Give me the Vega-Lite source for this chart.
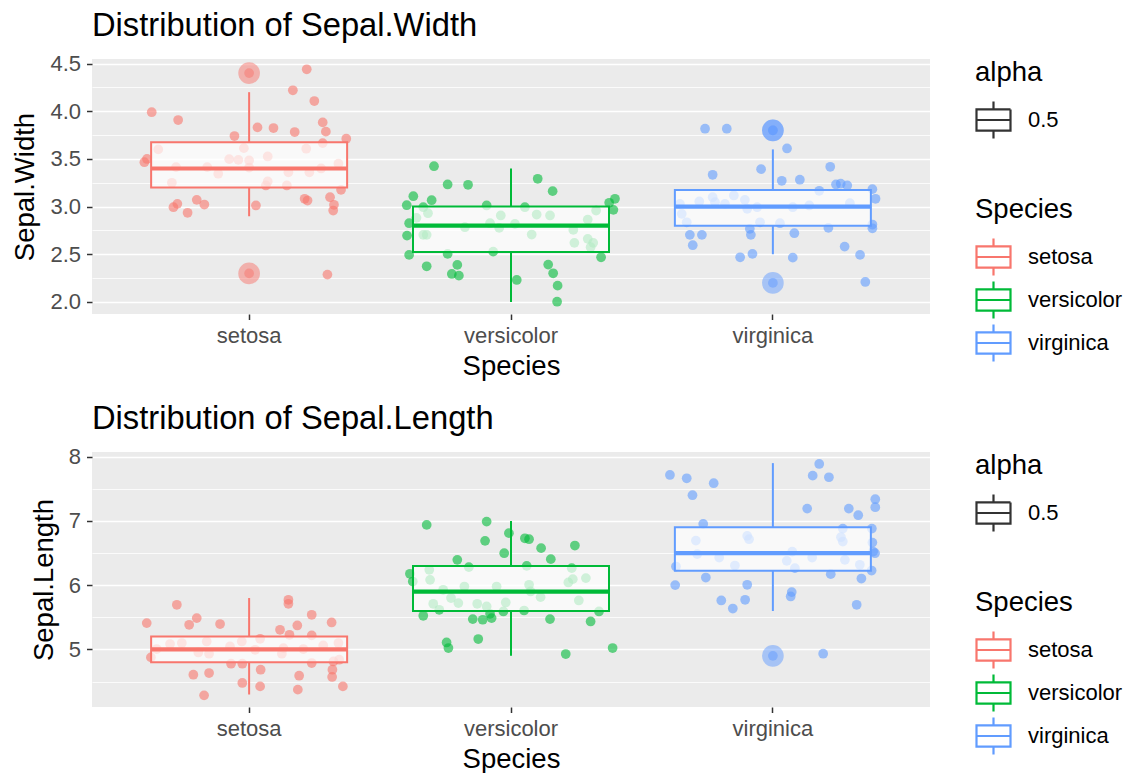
{
  "$schema": "https://vega.github.io/schema/vega-lite/v6.json",
  "background": "white",
  "padding": {"left": 11, "top": 9, "right": 5, "bottom": 5},
  "config": {
    "font": "Liberation Sans",
    "view": {"fill": "#EBEBEB", "stroke": null},
    "axis": {
      "domain": false,
      "gridColor": "white",
      "gridWidth": 1.6,
      "tickColor": "#333333",
      "tickWidth": 1.5,
      "tickSize": 5.5,
      "labelColor": "#4D4D4D",
      "labelFontSize": 22,
      "labelPadding": 6,
      "titleFontSize": 27.5,
      "titleFontWeight": "normal",
      "titleColor": "black"
    },
    "legend": {
      "titleFontSize": 27.5,
      "titleFontWeight": "normal",
      "titleColor": "black",
      "labelFontSize": 22,
      "labelColor": "black",
      "offset": 45,
      "rowPadding": -4,
      "labelOffset": 16,
      "titlePadding": 15,
      "symbolType": "M-1,-0.62L1,-0.62L1,0.62L-1,0.62Z M-1,0L1,0 M0,-0.62L0,-1.09 M0,0.62L0,1.09",
      "symbolSize": 1156,
      "symbolStrokeWidth": 2.2,
      "symbolFillColor": "transparent",
      "symbolOpacity": 1,
      "layout": {"right": {"anchor": "start", "direction": "vertical", "margin": 53}}
    },
    "title": {"fontSize": 32.7, "fontWeight": "normal", "color": "black", "anchor": "start", "frame": "group", "offset": 10}
  },
  "datasets": {
    "widthPoints": [
      {"Species":"setosa","jitter":0.22,"value":4.44},{"Species":"setosa","jitter":0.167,"value":4.22},{"Species":"setosa","jitter":0.249,"value":4.107},{"Species":"setosa","jitter":-0.372,"value":3.99},{"Species":"setosa","jitter":-0.271,"value":3.908},{"Species":"setosa","jitter":0.281,"value":3.883},{"Species":"setosa","jitter":0.293,"value":3.786},{"Species":"setosa","jitter":0.032,"value":3.831},{"Species":"setosa","jitter":0.093,"value":3.824},{"Species":"setosa","jitter":0.174,"value":3.782},{"Species":"setosa","jitter":-0.056,"value":3.74},{"Species":"setosa","jitter":0.371,"value":3.712},{"Species":"setosa","jitter":0.281,"value":3.666},{"Species":"setosa","jitter":-0.347,"value":3.6},{"Species":"setosa","jitter":-0.02,"value":3.613},{"Species":"setosa","jitter":0.218,"value":3.607},{"Species":"setosa","jitter":-0.4,"value":3.466},{"Species":"setosa","jitter":-0.39,"value":3.5},{"Species":"setosa","jitter":-0.076,"value":3.498},{"Species":"setosa","jitter":-0.041,"value":3.49},{"Species":"setosa","jitter":0.0,"value":3.484},{"Species":"setosa","jitter":0.071,"value":3.526},{"Species":"setosa","jitter":-0.279,"value":3.414},{"Species":"setosa","jitter":-0.16,"value":3.414},{"Species":"setosa","jitter":-0.118,"value":3.345},{"Species":"setosa","jitter":0.0,"value":3.41},{"Species":"setosa","jitter":0.15,"value":3.36},{"Species":"setosa","jitter":0.23,"value":3.36},{"Species":"setosa","jitter":0.275,"value":3.4},{"Species":"setosa","jitter":0.341,"value":3.45},{"Species":"setosa","jitter":-0.295,"value":3.25},{"Species":"setosa","jitter":0.064,"value":3.222},{"Species":"setosa","jitter":0.071,"value":3.264},{"Species":"setosa","jitter":0.144,"value":3.222},{"Species":"setosa","jitter":0.351,"value":3.176},{"Species":"setosa","jitter":0.309,"value":3.099},{"Species":"setosa","jitter":0.212,"value":3.082},{"Species":"setosa","jitter":0.223,"value":3.064},{"Species":"setosa","jitter":0.324,"value":3.019},{"Species":"setosa","jitter":0.321,"value":2.959},{"Species":"setosa","jitter":-0.289,"value":2.994},{"Species":"setosa","jitter":-0.274,"value":3.029},{"Species":"setosa","jitter":-0.2,"value":3.071},{"Species":"setosa","jitter":-0.171,"value":3.022},{"Species":"setosa","jitter":-0.235,"value":2.935},{"Species":"setosa","jitter":0.026,"value":3.012},{"Species":"setosa","jitter":0.299,"value":2.287},
      {"Species":"versicolor","jitter":-0.294,"value":3.424},{"Species":"versicolor","jitter":-0.242,"value":3.232},{"Species":"versicolor","jitter":-0.164,"value":3.229},{"Species":"versicolor","jitter":-0.373,"value":3.109},{"Species":"versicolor","jitter":-0.398,"value":3.015},{"Species":"versicolor","jitter":-0.303,"value":3.067},{"Species":"versicolor","jitter":-0.335,"value":2.994},{"Species":"versicolor","jitter":-0.093,"value":3.012},{"Species":"versicolor","jitter":0.053,"value":2.994},{"Species":"versicolor","jitter":0.102,"value":3.292},{"Species":"versicolor","jitter":0.159,"value":3.162},{"Species":"versicolor","jitter":0.375,"value":3.04},{"Species":"versicolor","jitter":0.397,"value":3.082},{"Species":"versicolor","jitter":0.391,"value":2.966},{"Species":"versicolor","jitter":0.325,"value":2.959},{"Species":"versicolor","jitter":-0.361,"value":2.882},{"Species":"versicolor","jitter":-0.317,"value":2.931},{"Species":"versicolor","jitter":-0.389,"value":2.826},{"Species":"versicolor","jitter":-0.397,"value":2.696},{"Species":"versicolor","jitter":-0.335,"value":2.704},{"Species":"versicolor","jitter":-0.322,"value":2.704},{"Species":"versicolor","jitter":-0.176,"value":2.784},{"Species":"versicolor","jitter":-0.08,"value":2.826},{"Species":"versicolor","jitter":-0.039,"value":2.907},{"Species":"versicolor","jitter":-0.045,"value":2.777},{"Species":"versicolor","jitter":0.015,"value":2.819},{"Species":"versicolor","jitter":0.098,"value":2.917},{"Species":"versicolor","jitter":0.149,"value":2.907},{"Species":"versicolor","jitter":0.079,"value":2.707},{"Species":"versicolor","jitter":0.238,"value":2.756},{"Species":"versicolor","jitter":0.293,"value":2.864},{"Species":"versicolor","jitter":0.242,"value":2.62},{"Species":"versicolor","jitter":0.293,"value":2.662},{"Species":"versicolor","jitter":0.314,"value":2.62},{"Species":"versicolor","jitter":0.304,"value":2.574},{"Species":"versicolor","jitter":-0.389,"value":2.494},{"Species":"versicolor","jitter":-0.242,"value":2.504},{"Species":"versicolor","jitter":-0.068,"value":2.528},{"Species":"versicolor","jitter":0.344,"value":2.469},{"Species":"versicolor","jitter":-0.322,"value":2.374},{"Species":"versicolor","jitter":-0.205,"value":2.389},{"Species":"versicolor","jitter":-0.226,"value":2.294},{"Species":"versicolor","jitter":-0.199,"value":2.276},{"Species":"versicolor","jitter":0.022,"value":2.231},{"Species":"versicolor","jitter":0.142,"value":2.392},{"Species":"versicolor","jitter":0.161,"value":2.301},{"Species":"versicolor","jitter":0.178,"value":2.171},{"Species":"versicolor","jitter":0.176,"value":2.003},
      {"Species":"virginica","jitter":-0.259,"value":3.817},{"Species":"virginica","jitter":-0.176,"value":3.817},{"Species":"virginica","jitter":0.054,"value":3.61},{"Species":"virginica","jitter":-0.23,"value":3.334},{"Species":"virginica","jitter":-0.045,"value":3.393},{"Species":"virginica","jitter":0.034,"value":3.271},{"Species":"virginica","jitter":0.103,"value":3.282},{"Species":"virginica","jitter":0.219,"value":3.418},{"Species":"virginica","jitter":0.241,"value":3.232},{"Species":"virginica","jitter":0.259,"value":3.24},{"Species":"virginica","jitter":0.284,"value":3.222},{"Species":"virginica","jitter":0.38,"value":3.183},{"Species":"virginica","jitter":0.392,"value":3.082},{"Species":"virginica","jitter":0.177,"value":3.166},{"Species":"virginica","jitter":-0.355,"value":3.029},{"Species":"virginica","jitter":-0.281,"value":3.054},{"Species":"virginica","jitter":-0.23,"value":3.099},{"Species":"virginica","jitter":-0.221,"value":3.046},{"Species":"virginica","jitter":-0.183,"value":3.029},{"Species":"virginica","jitter":-0.149,"value":3.117},{"Species":"virginica","jitter":-0.107,"value":3.071},{"Species":"virginica","jitter":-0.098,"value":2.977},{"Species":"virginica","jitter":-0.06,"value":2.994},{"Species":"virginica","jitter":0.076,"value":2.994},{"Species":"virginica","jitter":0.139,"value":3.012},{"Species":"virginica","jitter":0.294,"value":3.036},{"Species":"virginica","jitter":-0.348,"value":2.924},{"Species":"virginica","jitter":-0.329,"value":2.836},{"Species":"virginica","jitter":-0.049,"value":2.836},{"Species":"virginica","jitter":0.027,"value":2.826},{"Species":"virginica","jitter":0.38,"value":2.812},{"Species":"virginica","jitter":0.38,"value":2.773},{"Species":"virginica","jitter":0.212,"value":2.777},{"Species":"virginica","jitter":-0.088,"value":2.767},{"Species":"virginica","jitter":-0.084,"value":2.704},{"Species":"virginica","jitter":-0.317,"value":2.704},{"Species":"virginica","jitter":-0.271,"value":2.704},{"Species":"virginica","jitter":0.082,"value":2.721},{"Species":"virginica","jitter":-0.306,"value":2.595},{"Species":"virginica","jitter":0.274,"value":2.581},{"Species":"virginica","jitter":0.333,"value":2.494},{"Species":"virginica","jitter":-0.125,"value":2.469},{"Species":"virginica","jitter":-0.078,"value":2.504},{"Species":"virginica","jitter":0.076,"value":2.465},{"Species":"virginica","jitter":0.353,"value":2.21}
    ],
    "widthStats": [
      {"Species":"setosa","lower":2.9,"q1":3.2,"median":3.4,"q3":3.675,"upper":4.2,"alpha":"0.5"},
      {"Species":"versicolor","lower":2.0,"q1":2.525,"median":2.8,"q3":3.0,"upper":3.4,"alpha":"0.5"},
      {"Species":"virginica","lower":2.5,"q1":2.8,"median":3.0,"q3":3.175,"upper":3.6,"alpha":"0.5"}
    ],
    "widthOutliers": [
      {"Species":"setosa","value":4.4},{"Species":"setosa","value":2.3},
      {"Species":"virginica","value":3.8},{"Species":"virginica","value":3.8},{"Species":"virginica","value":2.2}
    ],
    "lengthPoints": [
      {"Species":"setosa","jitter":0.15,"value":5.773},{"Species":"setosa","jitter":0.15,"value":5.71},{"Species":"setosa","jitter":-0.276,"value":5.695},{"Species":"setosa","jitter":-0.391,"value":5.41},{"Species":"setosa","jitter":-0.229,"value":5.384},{"Species":"setosa","jitter":-0.2,"value":5.488},{"Species":"setosa","jitter":-0.111,"value":5.395},{"Species":"setosa","jitter":0.239,"value":5.539},{"Species":"setosa","jitter":0.184,"value":5.373},{"Species":"setosa","jitter":0.315,"value":5.42},{"Species":"setosa","jitter":0.118,"value":5.306},{"Species":"setosa","jitter":0.154,"value":5.228},{"Species":"setosa","jitter":0.239,"value":5.218},{"Species":"setosa","jitter":0.042,"value":5.166},{"Species":"setosa","jitter":-0.353,"value":5.006},{"Species":"setosa","jitter":-0.302,"value":5.084},{"Species":"setosa","jitter":-0.257,"value":5.1},{"Species":"setosa","jitter":-0.162,"value":5.124},{"Species":"setosa","jitter":-0.194,"value":4.953},{"Species":"setosa","jitter":-0.153,"value":4.933},{"Species":"setosa","jitter":-0.073,"value":5.047},{"Species":"setosa","jitter":-0.028,"value":5.124},{"Species":"setosa","jitter":0.023,"value":4.995},{"Species":"setosa","jitter":0.131,"value":5.02},{"Species":"setosa","jitter":0.125,"value":4.933},{"Species":"setosa","jitter":0.207,"value":5.006},{"Species":"setosa","jitter":0.283,"value":5.062},{"Species":"setosa","jitter":0.341,"value":5.1},{"Species":"setosa","jitter":0.344,"value":4.84},{"Species":"setosa","jitter":0.322,"value":4.813},{"Species":"setosa","jitter":-0.375,"value":4.876},{"Species":"setosa","jitter":-0.069,"value":4.778},{"Species":"setosa","jitter":-0.026,"value":4.778},{"Species":"setosa","jitter":0.239,"value":4.788},{"Species":"setosa","jitter":-0.213,"value":4.607},{"Species":"setosa","jitter":-0.153,"value":4.633},{"Species":"setosa","jitter":0.044,"value":4.684},{"Species":"setosa","jitter":0.191,"value":4.591},{"Species":"setosa","jitter":0.318,"value":4.684},{"Species":"setosa","jitter":0.317,"value":4.571},{"Species":"setosa","jitter":-0.026,"value":4.478},{"Species":"setosa","jitter":0.042,"value":4.425},{"Species":"setosa","jitter":0.186,"value":4.374},{"Species":"setosa","jitter":0.358,"value":4.425},{"Species":"setosa","jitter":-0.172,"value":4.285},
      {"Species":"versicolor","jitter":-0.322,"value":6.938},{"Species":"versicolor","jitter":-0.093,"value":6.99},{"Species":"versicolor","jitter":-0.008,"value":6.81},{"Species":"versicolor","jitter":-0.099,"value":6.69},{"Species":"versicolor","jitter":0.053,"value":6.73},{"Species":"versicolor","jitter":0.069,"value":6.716},{"Species":"versicolor","jitter":0.115,"value":6.576},{"Species":"versicolor","jitter":0.244,"value":6.617},{"Species":"versicolor","jitter":-0.026,"value":6.498},{"Species":"versicolor","jitter":0.152,"value":6.405},{"Species":"versicolor","jitter":-0.205,"value":6.394},{"Species":"versicolor","jitter":-0.161,"value":6.281},{"Species":"versicolor","jitter":0.06,"value":6.301},{"Species":"versicolor","jitter":-0.386,"value":6.177},{"Species":"versicolor","jitter":-0.375,"value":6.057},{"Species":"versicolor","jitter":-0.312,"value":6.239},{"Species":"versicolor","jitter":-0.309,"value":6.083},{"Species":"versicolor","jitter":0.232,"value":6.265},{"Species":"versicolor","jitter":0.236,"value":6.094},{"Species":"versicolor","jitter":0.219,"value":6.042},{"Species":"versicolor","jitter":0.286,"value":6.11},{"Species":"versicolor","jitter":-0.259,"value":5.928},{"Species":"versicolor","jitter":-0.178,"value":5.979},{"Species":"versicolor","jitter":-0.055,"value":5.979},{"Species":"versicolor","jitter":0.069,"value":6.006},{"Species":"versicolor","jitter":0.075,"value":5.902},{"Species":"versicolor","jitter":0.113,"value":5.814},{"Species":"versicolor","jitter":-0.229,"value":5.8},{"Species":"versicolor","jitter":-0.297,"value":5.71},{"Species":"versicolor","jitter":-0.201,"value":5.721},{"Species":"versicolor","jitter":-0.129,"value":5.71},{"Species":"versicolor","jitter":-0.093,"value":5.669},{"Species":"versicolor","jitter":-0.02,"value":5.731},{"Species":"versicolor","jitter":0.259,"value":5.762},{"Species":"versicolor","jitter":-0.274,"value":5.617},{"Species":"versicolor","jitter":-0.335,"value":5.524},{"Species":"versicolor","jitter":-0.146,"value":5.472},{"Species":"versicolor","jitter":-0.108,"value":5.462},{"Species":"versicolor","jitter":-0.074,"value":5.488},{"Species":"versicolor","jitter":-0.08,"value":5.555},{"Species":"versicolor","jitter":-0.029,"value":5.591},{"Species":"versicolor","jitter":0.05,"value":5.606},{"Species":"versicolor","jitter":0.149,"value":5.472},{"Species":"versicolor","jitter":0.304,"value":5.435},{"Species":"versicolor","jitter":0.336,"value":5.591},{"Species":"versicolor","jitter":-0.246,"value":5.109},{"Species":"versicolor","jitter":-0.239,"value":5.022},{"Species":"versicolor","jitter":-0.125,"value":5.162},{"Species":"versicolor","jitter":0.209,"value":4.928},{"Species":"versicolor","jitter":0.388,"value":5.022},
      {"Species":"virginica","jitter":-0.393,"value":7.716},{"Species":"virginica","jitter":-0.329,"value":7.664},{"Species":"virginica","jitter":-0.226,"value":7.587},{"Species":"virginica","jitter":-0.307,"value":7.4},{"Species":"virginica","jitter":0.177,"value":7.887},{"Species":"virginica","jitter":0.152,"value":7.705},{"Species":"virginica","jitter":0.214,"value":7.68},{"Species":"virginica","jitter":0.391,"value":7.338},{"Species":"virginica","jitter":0.391,"value":7.214},{"Species":"virginica","jitter":0.131,"value":7.192},{"Species":"virginica","jitter":0.29,"value":7.192},{"Species":"virginica","jitter":0.326,"value":7.089},{"Species":"virginica","jitter":-0.266,"value":6.954},{"Species":"virginica","jitter":0.378,"value":6.881},{"Species":"virginica","jitter":0.267,"value":6.881},{"Species":"virginica","jitter":-0.294,"value":6.694},{"Species":"virginica","jitter":-0.098,"value":6.767},{"Species":"virginica","jitter":-0.091,"value":6.716},{"Species":"virginica","jitter":0.26,"value":6.747},{"Species":"virginica","jitter":0.267,"value":6.679},{"Species":"virginica","jitter":0.38,"value":6.663},{"Species":"virginica","jitter":0.383,"value":6.523},{"Species":"virginica","jitter":0.39,"value":6.498},{"Species":"virginica","jitter":-0.289,"value":6.483},{"Species":"virginica","jitter":-0.205,"value":6.43},{"Species":"virginica","jitter":-0.145,"value":6.306},{"Species":"virginica","jitter":0.074,"value":6.523},{"Species":"virginica","jitter":0.053,"value":6.379},{"Species":"virginica","jitter":0.15,"value":6.43},{"Species":"virginica","jitter":0.275,"value":6.394},{"Species":"virginica","jitter":0.332,"value":6.317},{"Species":"virginica","jitter":-0.37,"value":6.29},{"Species":"virginica","jitter":0.084,"value":6.265},{"Species":"virginica","jitter":0.377,"value":6.228},{"Species":"virginica","jitter":0.221,"value":6.172},{"Species":"virginica","jitter":-0.256,"value":6.119},{"Species":"virginica","jitter":0.338,"value":6.104},{"Species":"virginica","jitter":-0.373,"value":6.001},{"Species":"virginica","jitter":-0.098,"value":6.006},{"Species":"virginica","jitter":0.072,"value":5.892},{"Species":"virginica","jitter":0.068,"value":5.824},{"Species":"virginica","jitter":-0.197,"value":5.762},{"Species":"virginica","jitter":-0.106,"value":5.773},{"Species":"virginica","jitter":-0.153,"value":5.637},{"Species":"virginica","jitter":0.32,"value":5.695},{"Species":"virginica","jitter":0.192,"value":4.933}
    ],
    "lengthStats": [
      {"Species":"setosa","lower":4.3,"q1":4.8,"median":5.0,"q3":5.2,"upper":5.8,"alpha":"0.5"},
      {"Species":"versicolor","lower":4.9,"q1":5.6,"median":5.9,"q3":6.3,"upper":7.0,"alpha":"0.5"},
      {"Species":"virginica","lower":5.6,"q1":6.225,"median":6.5,"q3":6.9,"upper":7.9,"alpha":"0.5"}
    ],
    "lengthOutliers": [
      {"Species":"virginica","value":4.9}
    ]
  },
  "spacing": 22,
  "resolve": {
    "scale": {"x": "independent", "y": "independent", "xOffset": "independent", "color": "independent", "stroke": "independent", "strokeDash": "independent"},
    "legend": {"color": "independent", "stroke": "independent", "strokeDash": "independent"}
  },
  "vconcat": [
    {
      "width": 838,
      "height": 255,
      "title": {"text": "Distribution of Sepal.Width"},
      "encoding": {
        "x": {"field": "Species", "type": "nominal",
          "scale": {"type": "band", "domain": ["setosa", "versicolor", "virginica"], "paddingInner": 0.2, "paddingOuter": 0.2},
          "axis": {"title": "Species", "labelAngle": 0, "bandPosition": 0.5, "titlePadding": 6}},
        "y": {"field": "value", "type": "quantitative",
          "scale": {"domain": [1.874, 4.548], "nice": false, "zero": false},
          "axis": {"title": "Sepal.Width", "titlePadding": 10,
            "values": [2, 2.25, 2.5, 2.75, 3, 3.25, 3.5, 3.75, 4, 4.25, 4.5],
            "labelExpr": "abs(datum.value*2-round(datum.value*2)) < 0.01 ? format(datum.value, '.1f') : ''",
            "gridWidth": {"condition": {"test": "abs(datum.value*2-round(datum.value*2)) < 0.01", "value": 1.6}, "value": 0.8},
            "tickOpacity": {"condition": {"test": "abs(datum.value*2-round(datum.value*2)) < 0.01", "value": 1}, "value": 0}}}
      },
      "layer": [
        {
          "data": {"name": "widthPoints"},
          "mark": {"type": "circle", "opacity": 0.6, "size": 95},
          "encoding": {
            "xOffset": {"field": "jitter", "type": "quantitative", "scale": {"domain": [-0.4, 0.4]}},
            "color": {"field": "Species", "type": "nominal", "legend": null,
              "scale": {"domain": ["virginica", "versicolor", "setosa"], "range": ["#619CFF", "#00BA38", "#F8766D"]}}
          }
        },
        {
          "data": {"name": "widthOutliers"},
          "mark": {"type": "circle", "opacity": 0.5, "size": 470},
          "encoding": {"color": {"field": "Species", "type": "nominal", "legend": null}}
        },
        {
          "data": {"name": "widthOutliers"},
          "mark": {"type": "circle", "opacity": 0.5, "size": 95},
          "encoding": {"color": {"field": "Species", "type": "nominal", "legend": null}}
        },
        {
          "data": {"name": "widthStats"},
          "mark": {"type": "rule", "strokeWidth": 2},
          "encoding": {"y": {"field": "lower", "type": "quantitative"}, "y2": {"field": "q1"},
            "color": {"field": "Species", "type": "nominal", "legend": null},
            "strokeDash": {"field": "alpha", "type": "nominal",
              "scale": {"domain": ["0.5"], "range": [[1, 0]]},
              "legend": {"title": "alpha", "symbolStrokeColor": "#333333"}}}
        },
        {
          "data": {"name": "widthStats"},
          "mark": {"type": "rule", "strokeWidth": 2},
          "encoding": {"y": {"field": "q3", "type": "quantitative"}, "y2": {"field": "upper"},
            "stroke": {"field": "Species", "type": "nominal",
              "scale": {"domain": ["setosa", "versicolor", "virginica"], "range": ["#F8766D", "#00BA38", "#619CFF"]},
              "legend": {"title": "Species"}}}
        },
        {
          "data": {"name": "widthStats"},
          "mark": {"type": "bar", "fill": "white", "fillOpacity": 0.7, "strokeWidth": 2, "width": 196},
          "encoding": {
            "y": {"field": "q1", "type": "quantitative"}, "y2": {"field": "q3"},
            "stroke": {"field": "Species", "type": "nominal"}
          }
        },
        {
          "data": {"name": "widthStats"},
          "mark": {"type": "tick", "orient": "horizontal", "size": 196, "thickness": 4.2, "opacity": 1},
          "encoding": {"y": {"field": "median", "type": "quantitative"},
            "color": {"field": "Species", "type": "nominal", "legend": null}}
        }
      ]
    },
    {
      "width": 838,
      "height": 255,
      "title": {"text": "Distribution of Sepal.Length"},
      "encoding": {
        "x": {"field": "Species", "type": "nominal",
          "scale": {"type": "band", "domain": ["setosa", "versicolor", "virginica"], "paddingInner": 0.2, "paddingOuter": 0.2},
          "axis": {"title": "Species", "labelAngle": 0, "bandPosition": 0.5, "titlePadding": 6}},
        "y": {"field": "value", "type": "quantitative",
          "scale": {"domain": [4.104, 8.073], "nice": false, "zero": false},
          "axis": {"title": "Sepal.Length", "titlePadding": 10,
            "values": [4.5, 5, 5.5, 6, 6.5, 7, 7.5, 8],
            "labelExpr": "abs(datum.value-round(datum.value)) < 0.01 ? format(datum.value, 'd') : ''",
            "gridWidth": {"condition": {"test": "abs(datum.value-round(datum.value)) < 0.01", "value": 1.6}, "value": 0.8},
            "tickOpacity": {"condition": {"test": "abs(datum.value-round(datum.value)) < 0.01", "value": 1}, "value": 0}}}
      },
      "layer": [
        {
          "data": {"name": "lengthPoints"},
          "mark": {"type": "circle", "opacity": 0.6, "size": 95},
          "encoding": {
            "xOffset": {"field": "jitter", "type": "quantitative", "scale": {"domain": [-0.4, 0.4]}},
            "color": {"field": "Species", "type": "nominal", "legend": null,
              "scale": {"domain": ["virginica", "versicolor", "setosa"], "range": ["#619CFF", "#00BA38", "#F8766D"]}}
          }
        },
        {
          "data": {"name": "lengthOutliers"},
          "mark": {"type": "circle", "opacity": 0.5, "size": 470},
          "encoding": {"color": {"field": "Species", "type": "nominal", "legend": null}}
        },
        {
          "data": {"name": "lengthOutliers"},
          "mark": {"type": "circle", "opacity": 0.5, "size": 95},
          "encoding": {"color": {"field": "Species", "type": "nominal", "legend": null}}
        },
        {
          "data": {"name": "lengthStats"},
          "mark": {"type": "rule", "strokeWidth": 2},
          "encoding": {"y": {"field": "lower", "type": "quantitative"}, "y2": {"field": "q1"},
            "color": {"field": "Species", "type": "nominal", "legend": null},
            "strokeDash": {"field": "alpha", "type": "nominal",
              "scale": {"domain": ["0.5"], "range": [[1, 0]]},
              "legend": {"title": "alpha", "symbolStrokeColor": "#333333"}}}
        },
        {
          "data": {"name": "lengthStats"},
          "mark": {"type": "rule", "strokeWidth": 2},
          "encoding": {"y": {"field": "q3", "type": "quantitative"}, "y2": {"field": "upper"},
            "stroke": {"field": "Species", "type": "nominal",
              "scale": {"domain": ["setosa", "versicolor", "virginica"], "range": ["#F8766D", "#00BA38", "#619CFF"]},
              "legend": {"title": "Species"}}}
        },
        {
          "data": {"name": "lengthStats"},
          "mark": {"type": "bar", "fill": "white", "fillOpacity": 0.7, "strokeWidth": 2, "width": 196},
          "encoding": {
            "y": {"field": "q1", "type": "quantitative"}, "y2": {"field": "q3"},
            "stroke": {"field": "Species", "type": "nominal"}
          }
        },
        {
          "data": {"name": "lengthStats"},
          "mark": {"type": "tick", "orient": "horizontal", "size": 196, "thickness": 4.2, "opacity": 1},
          "encoding": {"y": {"field": "median", "type": "quantitative"},
            "color": {"field": "Species", "type": "nominal", "legend": null}}
        }
      ]
    }
  ]
}
